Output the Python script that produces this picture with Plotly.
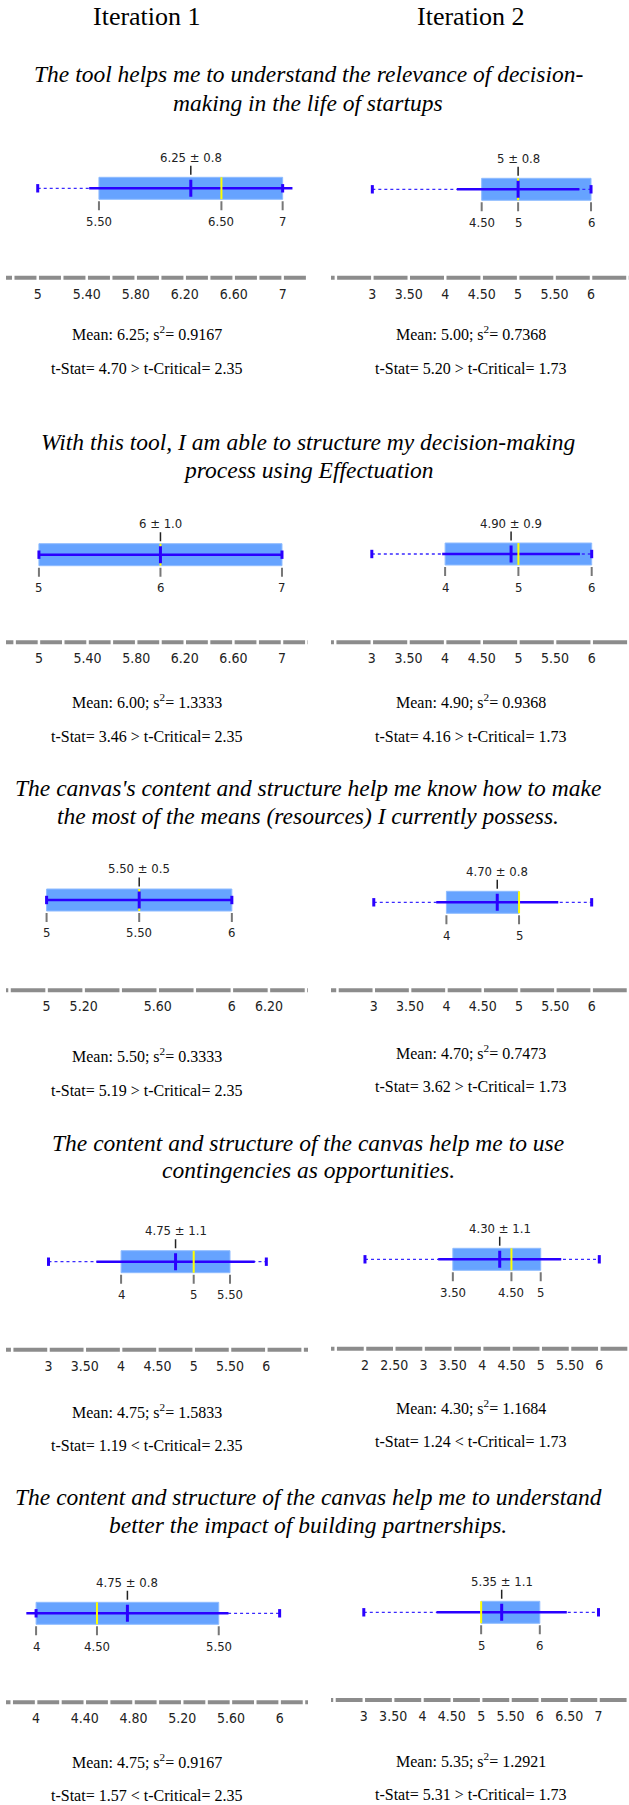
import numpy as np
import plotly.graph_objects as go

W, H = 629, 1805

headers = ["Iteration 1", "Iteration 2"]
questions = [
    ["The tool helps me to understand the relevance of decision-", "making in the life of startups"],
    ["With this tool, I am able to structure my decision-making", "process using Effectuation"],
    ["The canvas's content and structure help me know how to make", "the most of the means (resources) I currently possess."],
    ["The content and structure of the canvas help me to use", "contingencies as opportunities."],
    ["The content and structure of the canvas help me to understand", "better the impact of building partnerships."],
]

# Panels in row-major order: (question 1, iter 1), (question 1, iter 2), ...
mins    = [5, 3,   5, 3,   5, 3,   3, 2,   4, 3]
q1s     = [5.5, 4.5, 5, 4, 5, 4, 4, 3.5, 4, 5]
medians = [6.5, 5, 6, 5, 5.5, 5, 5, 4.5, 4.5, 5]
q3s     = [7, 6, 7, 6, 6, 5, 5.5, 5, 5.5, 6]
maxs    = [7, 6, 7, 6, 6, 6, 6, 6, 6, 7]
means   = [6.25, 5.00, 6.00, 4.90, 5.50, 4.70, 4.75, 4.30, 4.75, 5.35]
sds     = [0.83, 0.84, 1.00, 0.94, 0.50, 0.84, 1.09, 1.05, 0.83, 1.11]
sd_labels = ["0.8", "0.8", "1.0", "0.9", "0.5", "0.8", "1.1", "1.1", "0.8", "1.1"]
variances = ["0.9167", "0.7368", "1.3333", "0.9368", "0.3333", "0.7473", "1.5833", "1.1684", "0.9167", "1.2921"]
t_stats   = ["4.70", "5.20", "3.46", "4.16", "5.19", "3.62", "1.19", "1.24", "1.57", "5.31"]
t_crits   = ["2.35", "1.73", "2.35", "1.73", "2.35", "1.73", "2.35", "1.73", "2.35", "1.73"]
t_signs   = [">", ">", ">", ">", ">", ">", "<", "<", "<", ">"]

tick_vals = [
    [5, 5.4, 5.8, 6.2, 6.6, 7], [3, 3.5, 4, 4.5, 5, 5.5, 6],
    [5, 5.4, 5.8, 6.2, 6.6, 7], [3, 3.5, 4, 4.5, 5, 5.5, 6],
    [5, 5.2, 5.6, 6, 6.2], [3, 3.5, 4, 4.5, 5, 5.5, 6],
    [3, 3.5, 4, 4.5, 5, 5.5, 6], [2, 2.5, 3, 3.5, 4, 4.5, 5, 5.5, 6],
    [4, 4.4, 4.8, 5.2, 5.6, 6], [3, 3.5, 4, 4.5, 5, 5.5, 6, 6.5, 7],
]
tick_text = [
    ["5", "5.40", "5.80", "6.20", "6.60", "7"], ["3", "3.50", "4", "4.50", "5", "5.50", "6"],
    ["5", "5.40", "5.80", "6.20", "6.60", "7"], ["3", "3.50", "4", "4.50", "5", "5.50", "6"],
    ["5", "5.20", "5.60", "6", "6.20"], ["3", "3.50", "4", "4.50", "5", "5.50", "6"],
    ["3", "3.50", "4", "4.50", "5", "5.50", "6"], ["2", "2.50", "3", "3.50", "4", "4.50", "5", "5.50", "6"],
    ["4", "4.40", "4.80", "5.20", "5.60", "6"], ["3", "3.50", "4", "4.50", "5", "5.50", "6", "6.50", "7"],
]

# ---- layout / styling (not data) ----
x_ranges = [
    [4.741, 7.207], [2.433, 6.521],
    [4.729, 7.214], [2.443, 6.509],
    [4.781, 6.411], [2.411, 6.514],
    [2.415, 6.574], [1.420, 6.507],
    [3.753, 6.233], [2.441, 7.520],
]
gap_steps = [0.2, 0.5, 0.2, 0.5, 0.2, 0.5, 0.5, 0.5, 0.2, 0.5]

title_y = [[74, 102.7], [441.7, 470], [788.3, 816], [1142.7, 1170], [1497.3, 1525]]
box_y   = [[188.3, 189.3], [554.7, 554], [900, 902.3], [1261.7, 1259.3], [1613.3, 1612.3]]
axis_y  = [[277.7, 277.7], [642.3, 642.3], [990.3, 990.3], [1349.7, 1348.7], [1702.3, 1700]]
mean_y  = [[333.3, 333.3], [701, 701], [1055, 1051.7], [1410.7, 1406.7], [1761, 1760]]
tstat_y = [[368.3, 368.3], [736, 736], [1090, 1086.7], [1445, 1441], [1795, 1794.3]]
col_x_dom = [[6 / W, 308 / W], [331 / W, 1.0]]
col_text_x = [146.5, 470.8]

SERIF = "'Liberation Serif', 'Times New Roman', serif"
SANS = "Tahoma, 'DejaVu Sans Condensed', 'Liberation Sans', sans-serif"
BOX_FILL = "#66a3ff"
BOX_EDGE = "#8fbcff"
BLUE = "#2a00ff"
YELLOW = "#ffff00"


def fmt(v):
    return f"{v:.0f}" if abs(v - round(v)) < 1e-9 else f"{v:.2f}"


def py(px):
    return 1 - px / H


fig = go.Figure()
layout = dict(
    width=W, height=H, margin=dict(l=0, r=0, t=0, b=0),
    paper_bgcolor="white", plot_bgcolor="white", showlegend=False,
    hovermode=False,
)
shapes = []
annotations = []

for c, h in enumerate(headers):
    annotations.append(dict(text=h, xref="paper", yref="paper", x=col_text_x[c] / W, y=py(16.5),
                            xanchor="center", yanchor="middle", showarrow=False,
                            font=dict(family=SERIF, size=26, color="black")))

for r, lines in enumerate(questions):
    for k, line in enumerate(lines):
        annotations.append(dict(text=f"<i>{line}</i>", xref="paper", yref="paper", x=308 / W,
                                y=py(title_y[r][k]), xanchor="center", yanchor="middle",
                                showarrow=False, font=dict(family=SERIF, size=23.5, color="black")))

for i in range(10):
    r, c = divmod(i, 2)
    n = i + 1
    xa = "x" if n == 1 else f"x{n}"
    ya = "y" if n == 1 else f"y{n}"
    xkey = "xaxis" if n == 1 else f"xaxis{n}"
    ykey = "yaxis" if n == 1 else f"yaxis{n}"
    by = box_y[r][c]
    ay = axis_y[r][c]
    top = by - 45
    bot = ay + 6
    layout[xkey] = dict(domain=col_x_dom[c], range=x_ranges[i], anchor=ya,
                        tickmode="array", tickvals=tick_vals[i], ticktext=tick_text[i],
                        showgrid=False, zeroline=False, showline=False, ticks="",
                        tickfont=dict(family=SANS, size=14, color="#222"), fixedrange=True)
    layout[ykey] = dict(domain=[py(bot), py(top)], range=[bot, top], anchor=xa,
                        visible=False, fixedrange=True)

    mn, mx, q1, md, q3 = mins[i], maxs[i], q1s[i], medians[i], q3s[i]
    mu, sd = means[i], sds[i]

    # box
    shapes.append(dict(type="rect", xref=xa, yref=ya, x0=q1, x1=q3, y0=by - 11, y1=by + 11,
                       fillcolor=BOX_FILL, line=dict(color=BOX_EDGE, width=1), layer="below"))
    # bottom axis line
    shapes.append(dict(type="line", xref=f"{xa} domain", yref=ya, x0=0, x1=1, y0=ay, y1=ay,
                       line=dict(color="#8c8c8c", width=4), layer="below"))
    # gaps in the axis line
    lo, hi = x_ranges[i]
    st = gap_steps[i]
    gaps = np.arange(np.ceil(lo / st) * st, hi, st)
    fig.add_trace(go.Scatter(x=gaps, y=[ay] * len(gaps), xaxis=xa, yaxis=ya, mode="markers",
                             marker=dict(symbol="line-ns", size=5, line=dict(color="white", width=2.5)),
                             cliponaxis=False))
    # min-max dotted whisker
    fig.add_trace(go.Scatter(x=[mn, mx], y=[by, by], xaxis=xa, yaxis=ya, mode="lines",
                             line=dict(color="#3a2aff", width=1.3, dash="dot")))
    # mean +- sd line
    fig.add_trace(go.Scatter(x=[mu - sd, mu + sd], y=[by, by], xaxis=xa, yaxis=ya, mode="lines",
                             line=dict(color=BLUE, width=2.5)))
    # min / max caps
    fig.add_trace(go.Scatter(x=[mn, mx], y=[by, by], xaxis=xa, yaxis=ya, mode="markers",
                             marker=dict(symbol="line-ns", size=6, line=dict(color=BLUE, width=3)),
                             cliponaxis=False))
    # median
    fig.add_trace(go.Scatter(x=[md, md], y=[by - 11, by + 11], xaxis=xa, yaxis=ya, mode="lines",
                             line=dict(color=YELLOW, width=2)))
    # mean marker
    fig.add_trace(go.Scatter(x=[mu, mu], y=[by - 8.5, by + 8.5], xaxis=xa, yaxis=ya, mode="lines",
                             line=dict(color=BLUE, width=3)))
    # mean label tick
    fig.add_trace(go.Scatter(x=[mu, mu], y=[by - 22.5, by - 13.5], xaxis=xa, yaxis=ya, mode="lines",
                             line=dict(color="#222", width=1.5)))
    annotations.append(dict(text=f"{fmt(mu)} ± {sd_labels[i]}", xref=xa, yref=ya, x=mu, y=by - 31,
                            xanchor="center", yanchor="middle", showarrow=False,
                            font=dict(family=SANS, size=13, color="#222")))
    # quartile ticks and labels
    qvals = sorted(set([q1, md, q3]))
    qx, qy = [], []
    for v in qvals:
        qx += [v, v, None]
        qy += [by + 13, by + 22, None]
        annotations.append(dict(text=fmt(v), xref=xa, yref=ya, x=v, y=by + 33,
                                xanchor="center", yanchor="middle", showarrow=False,
                                font=dict(family=SANS, size=13, color="#222")))
    fig.add_trace(go.Scatter(x=qx, y=qy, xaxis=xa, yaxis=ya, mode="lines",
                             line=dict(color="#777", width=2), cliponaxis=False))

    # statistics text
    annotations.append(dict(text=f"Mean: {mu:.2f}; s<sup>2</sup>= {variances[i]}",
                            xref="paper", yref="paper", x=col_text_x[c] / W, y=py(mean_y[r][c]),
                            xanchor="center", yanchor="middle", showarrow=False,
                            font=dict(family=SERIF, size=16, color="black")))
    sign = "&gt;" if t_signs[i] == ">" else "&lt;"
    annotations.append(dict(text=f"t-Stat= {t_stats[i]} {sign} t-Critical= {t_crits[i]}",
                            xref="paper", yref="paper", x=col_text_x[c] / W, y=py(tstat_y[r][c]),
                            xanchor="center", yanchor="middle", showarrow=False,
                            font=dict(family=SERIF, size=16, color="black")))

layout["shapes"] = shapes
layout["annotations"] = annotations
fig.update_layout(**layout)
fig.write_html("out.html", config={"displayModeBar": False},
               post_script="document.body.style.margin='0';document.body.style.overflow='hidden';")
